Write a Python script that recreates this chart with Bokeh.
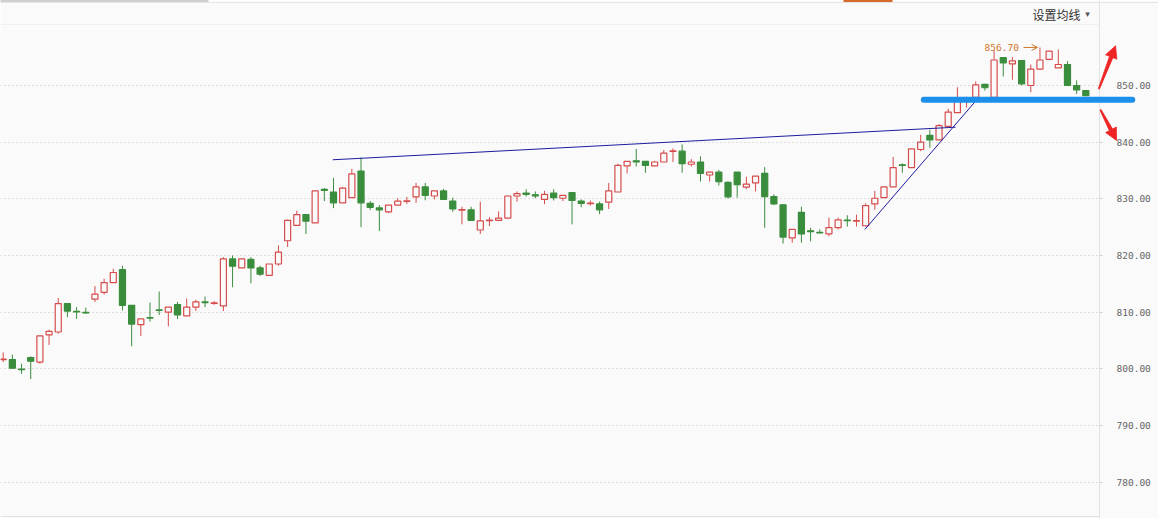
import math
from bokeh.plotting import figure
from bokeh.models import (Range1d, FixedTicker, Label, Arrow, OpenHead,
                          Span, ColumnDataSource, NumeralTickFormatter)
from bokeh.core.properties import value
from bokeh.embed import file_html
from bokeh.resources import INLINE

# ---------------- data ----------------
opens = [801.6, 801.65, 799.95, 802.0, 801.2, 806.0, 806.5, 811.5, 810.15, 809.95,
         812.3, 813.5, 815.2, 817.5, 811.2, 807.8, 809.05, 810.4, 810.0, 811.35,
         809.35, 810.9, 811.8, 811.55, 811.1, 819.4, 817.8, 819.3, 817.8, 816.5,
         818.5, 822.6, 825.3, 827.2, 825.75, 831.65, 831.2, 829.3, 830.2, 834.9,
         829.2, 828.4, 827.7, 828.9, 829.55, 830.35, 832.1, 830.5, 831.4, 829.6,
         828.0, 828.05, 824.5, 826.15, 826.2, 826.6, 830.5, 831.0, 830.7, 829.9,
         831.0, 830.1, 831.1, 829.6, 829.15, 829.1, 829.4, 831.2, 835.8, 836.7,
         836.6, 835.8, 836.5, 838.35, 838.4, 836.1, 836.5, 834.2, 834.7, 832.9,
         834.7, 832.05, 832.8, 834.5, 830.4, 828.95, 823.1, 827.6, 824.35, 824.1,
         823.8, 824.9, 826.25, 826.05, 825.25, 829.1, 830.2, 832.1, 836.0, 835.5,
         838.7, 841.2, 840.4, 842.8, 845.2, 847.3, 847.9, 850.2, 847.9, 854.9,
         853.8, 854.4, 850.0, 852.9, 854.6, 853.1, 853.7, 850.0, 849.1]
highs = [802.9, 802.5, 800.9, 802.2, 805.8, 806.9, 812.5, 811.5, 810.9, 810.8,
         814.6, 815.9, 817.65, 818.2, 811.2, 808.8, 811.7, 813.65, 810.9, 811.8,
         812.4, 812.2, 812.75, 811.95, 819.7, 820.0, 819.4, 819.7, 818.2, 818.5,
         821.8, 826.35, 827.9, 827.2, 831.4, 831.9, 833.7, 832.1, 835.3, 837.3,
         829.6, 828.9, 828.9, 830.1, 830.35, 832.8, 832.8, 831.4, 831.75, 830.2,
         828.6, 828.6, 829.5, 826.75, 827.8, 830.6, 831.3, 831.7, 831.3, 831.4,
         831.7, 830.6, 831.1, 829.9, 829.7, 829.5, 832.8, 836.2, 836.6, 838.8,
         836.6, 836.7, 838.6, 838.9, 839.6, 837.0, 837.5, 834.7, 835.1, 833.05,
         834.7, 833.9, 834.0, 835.6, 830.8, 828.95, 824.6, 828.6, 824.9, 824.6,
         826.7, 826.7, 827.1, 827.2, 829.2, 831.4, 832.2, 837.4, 836.25, 838.8,
         841.3, 842.2, 843.2, 845.9, 849.7, 848.0, 850.7, 850.3, 856.2, 854.9,
         855.0, 854.4, 853.7, 856.7, 856.05, 856.35, 854.3, 850.9, 849.1]
lows = [801.2, 800.0, 799.1, 798.2, 800.9, 804.2, 806.2, 809.1, 808.8, 809.7,
        811.8, 813.1, 815.2, 810.3, 804.0, 805.8, 808.35, 809.5, 807.5, 808.8,
        809.35, 810.2, 810.9, 811.3, 810.2, 814.4, 817.8, 815.1, 816.4, 816.35,
        818.2, 821.5, 825.3, 823.8, 825.75, 829.6, 828.35, 829.3, 830.2, 825.0,
        828.05, 824.3, 827.5, 828.9, 829.1, 829.3, 829.75, 829.9, 829.9, 827.7,
        825.5, 826.2, 823.8, 825.2, 826.2, 826.6, 829.5, 830.4, 830.1, 829.05,
        829.7, 829.6, 825.5, 828.5, 828.8, 827.3, 828.2, 831.2, 834.5, 835.7,
        834.6, 835.8, 836.5, 836.5, 834.6, 835.7, 833.05, 833.05, 832.35, 830.05,
        830.2, 831.7, 831.3, 824.9, 828.9, 822.1, 822.25, 822.25, 822.5, 823.9,
        823.4, 824.6, 825.1, 825.1, 825.1, 828.1, 830.2, 832.1, 834.6, 835.5,
        838.4, 839.0, 840.4, 842.8, 845.2, 846.1, 847.9, 849.1, 847.9, 851.6,
        851.0, 850.0, 848.8, 852.9, 854.6, 853.1, 850.0, 848.5, 848.2]
closes = [801.7, 800.1, 799.85, 801.35, 805.8, 806.6, 811.5, 810.2, 810.05, 809.85,
          813.2, 815.2, 817.0, 811.2, 807.9, 808.8, 808.95, 810.3, 810.9, 809.5,
          810.9, 811.8, 811.7, 811.65, 819.4, 818.1, 819.4, 817.8, 816.7, 818.5,
          820.6, 826.2, 827.2, 826.05, 831.4, 831.5, 829.3, 831.9, 834.4, 829.3,
          828.5, 828.05, 828.9, 829.6, 829.65, 832.1, 830.6, 831.4, 829.9, 828.2,
          828.1, 826.2, 826.1, 826.25, 826.6, 830.5, 830.9, 830.8, 830.5, 830.8,
          830.2, 830.6, 829.7, 829.2, 829.25, 828.05, 831.4, 835.9, 836.6, 836.5,
          835.9, 836.5, 838.05, 838.45, 836.2, 836.5, 834.5, 834.7, 833.05, 830.35,
          832.5, 832.6, 834.0, 830.4, 829.1, 823.25, 824.6, 823.8, 824.2, 824.0,
          824.9, 826.3, 826.15, 826.15, 828.8, 830.1, 832.1, 835.5, 835.9, 838.8,
          840.0, 840.4, 842.9, 845.3, 847.8, 847.7, 850.1, 849.6, 854.5, 854.0,
          854.35, 850.3, 852.9, 854.5, 856.05, 853.7, 850.0, 849.2, 848.2]

y_ticks = [780, 790, 800, 810, 820, 830, 840, 850]

# drawn annotations (index units / price units)
resistance_x = [35.92, 103.8]
resistance_y = [836.89, 842.64]
rising_x = [93.91, 105.98]
rising_y = [824.59, 847.23]
support_x = [100.34, 123.06]
support_y = [847.5, 847.5]
arrow_up = (119.42, 849.4, 121.24, 857.0)      # tail x, tail y, tip x, tip y
arrow_down = (119.6, 845.7, 121.35, 840.3)
max_label = "856.70"
max_label_pos = (106.96, 856.71)
max_arrow = (111.21, 112.74, 856.71)
header_text = "设置均线"
header_pos = (112.19, 862.6)

# ---------------- figure ----------------
RED = "#d64c4c"
GREEN = "#3a8d3c"
BG = "#fafafa"
X0, X1 = -0.294, 119.49
Y0, Y1 = 773.59, 860.76
PX_X = 1099 / (X1 - X0)      # pixels per index unit
PX_Y = 494 / (Y1 - Y0)       # pixels per price unit

p = figure(frame_width=1099, frame_height=494, output_backend="svg", toolbar_location=None,
           x_range=Range1d(X0, X1), y_range=Range1d(Y0, Y1),
           x_axis_location=None, y_axis_location="right",
           min_border_left=0, min_border_right=59, min_border_top=24, min_border_bottom=0,
           background_fill_color=BG, border_fill_color=BG)
p.outline_line_color = None

yax = p.yaxis[0]
yax.ticker = FixedTicker(ticks=y_ticks)
yax.formatter = NumeralTickFormatter(format="0.00")
yax.axis_line_color = "#e2e2e2"
yax.major_tick_line_color = "#d0d0d0"
yax.major_tick_out = 3
yax.major_tick_in = 0
yax.minor_tick_line_color = None
yax.major_label_standoff = 14
yax.major_label_text_font = "DejaVu Sans Mono"
yax.major_label_text_font_size = "9.5px"
yax.major_label_text_color = "#666666"

p.ygrid.ticker = FixedTicker(ticks=y_ticks)
p.ygrid.grid_line_color = "#c4c4c4"
p.ygrid.grid_line_dash = "1 3"
p.xgrid.grid_line_color = None

# header separator and bottom border
p.add_layout(Span(location=Y1, dimension="width", line_color="#e4e4e4", line_width=1))
p.add_layout(Span(location=Y0 + 2 / PX_Y, dimension="width", line_color="#e2e2e2", line_width=1))
# axis line continued through the header strip, and header top chrome
p.segment(x0=[X1], y0=[Y1], x1=[X1], y1=[Y1 + 24 / PX_Y], line_color="#e2e2e2",
          line_width=1, level="overlay")
top_y = Y1 + 22 / PX_Y
p.segment(x0=[X0], y0=[top_y], x1=[X0 + 1158 / PX_X], y1=[top_y], line_color="#e6e6e6",
          line_width=1, level="overlay")
p.segment(x0=[X0, X0 + 843 / PX_X], y0=[Y1 + 23.6 / PX_Y] * 2,
          x1=[X0 + 208 / PX_X, X0 + 892 / PX_X], y1=[Y1 + 23.6 / PX_Y] * 2,
          line_color=["#cfcfcf", "#d4692a"], line_width=2, level="overlay")

idx = list(range(len(opens)))
is_up = [c >= o for o, c in zip(opens, closes)]
colors = [RED if u else GREEN for u in is_up]

wick_src = ColumnDataSource(dict(x=idx, low=lows, high=highs, color=colors))
p.segment(x0="x", y0="low", x1="x", y1="high", line_color="color", line_width=1, source=wick_src)

up_src = ColumnDataSource(dict(
    x=[i for i, u in zip(idx, is_up) if u],
    o=[o for o, u in zip(opens, is_up) if u],
    c=[c for c, u in zip(closes, is_up) if u]))
dn_src = ColumnDataSource(dict(
    x=[i for i, u in zip(idx, is_up) if not u],
    o=[o for o, u in zip(opens, is_up) if not u],
    c=[c for c, u in zip(closes, is_up) if not u]))
p.vbar(x="x", width=0.66, top="c", bottom="o", fill_color=BG, line_color=RED,
       line_width=1.2, source=up_src)
p.vbar(x="x", width=0.66, top="o", bottom="c", fill_color=GREEN, line_color=GREEN,
       line_width=1.2, source=dn_src)

# trend lines
p.line(resistance_x, resistance_y, line_color="#1c1ca0", line_width=1)
p.line(rising_x, rising_y, line_color="#1c1ca0", line_width=1)

# thick blue support line (drawn above everything, may reach into the axis strip)
p.line(support_x, support_y, line_color="#1b8fea", line_width=6, line_cap="round",
       level="overlay")


# red brush-style arrows, built in pixel space then mapped back to data units
def arrow_polygon(tx, ty, hx, hy, head_len=12.0, head_half=6.0, tail_half=0.6, neck_half=1.8):
    ax, ay = tx * PX_X, ty * PX_Y
    bx, by = hx * PX_X, hy * PX_Y
    L = math.hypot(bx - ax, by - ay)
    ux, uy = (bx - ax) / L, (by - ay) / L
    nx, ny = -uy, ux
    cx, cy = bx - ux * head_len, by - uy * head_len
    pts = [(ax + nx * tail_half, ay + ny * tail_half),
           (cx + nx * neck_half, cy + ny * neck_half),
           (cx + nx * head_half, cy + ny * head_half),
           (bx, by),
           (cx - nx * head_half, cy - ny * head_half),
           (cx - nx * neck_half, cy - ny * neck_half),
           (ax - nx * tail_half, ay - ny * tail_half)]
    return [q[0] / PX_X for q in pts], [q[1] / PX_Y for q in pts]


for (x0, y0, x1, y1) in (arrow_up, arrow_down):
    xs, ys = arrow_polygon(x0, y0, x1, y1)
    p.patch(xs, ys, fill_color="#ee2424", line_color="#ee2424", line_width=0.8,
            level="overlay")

# max price marker
p.add_layout(Label(x=max_label_pos[0], y=max_label_pos[1], text=max_label,
                   text_font="DejaVu Sans Mono", text_font_size="9.5px",
                   text_color="#d0782a", text_baseline="middle"))
p.add_layout(Arrow(end=OpenHead(size=6, line_color="#d0782a", line_width=1),
                   x_start=max_arrow[0], y_start=max_arrow[2],
                   x_end=max_arrow[1], y_end=max_arrow[2],
                   line_color="#d0782a", line_width=1))

# header menu text (above the frame)
p.text(x=[header_pos[0]], y=[header_pos[1]], text=[header_text],
       text_font=value("Noto Sans CJK SC"), text_font_size="12px", text_color="#333333",
       text_baseline="middle", level="overlay")
p.text(x=[header_pos[0] + 5.75], y=[header_pos[1]], text=["▾"],
       text_font=value("DejaVu Sans"), text_font_size="9px", text_color="#555555",
       text_baseline="middle", level="overlay")

open("out.html", "w").write(file_html(p, INLINE))
